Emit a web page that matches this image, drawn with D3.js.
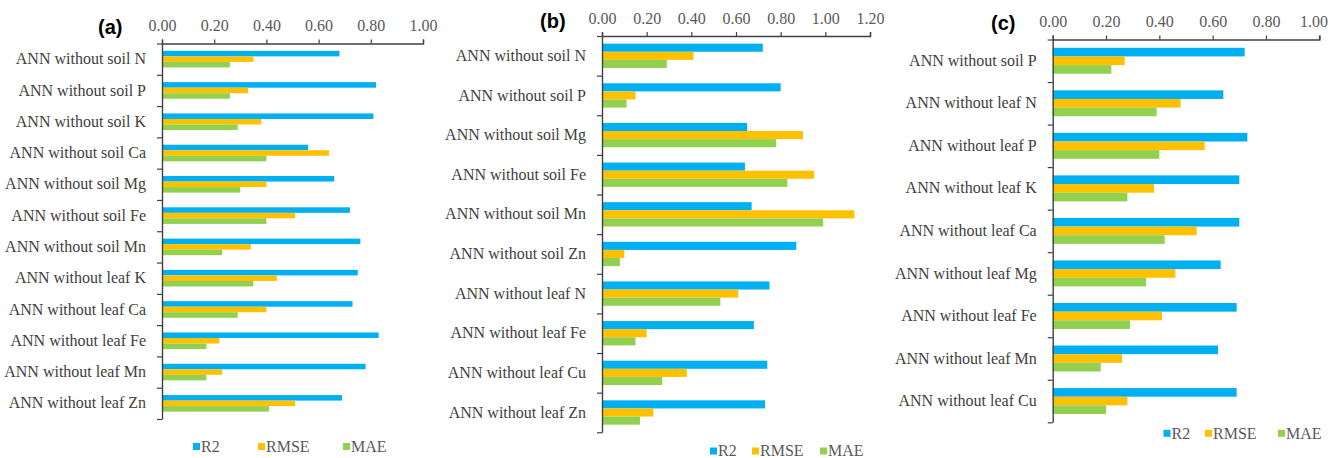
<!DOCTYPE html>
<html>
<head>
<meta charset="utf-8">
<script src="https://cdn.jsdelivr.net/npm/d3@7"></script>
<style>
  html, body { margin: 0; padding: 0; background: #ffffff; }
  svg { display: block; }
</style>
</head>
<body>
<svg id="chart" width="1332" height="458"></svg>
<script>
// ---- data -------------------------------------------------------------
const seriesNames = ["R2", "RMSE", "MAE"];

const labelsA = ["ANN without soil N", "ANN without soil P", "ANN without soil K",
  "ANN without soil Ca", "ANN without soil Mg", "ANN without soil Fe",
  "ANN without soil Mn", "ANN without leaf K", "ANN without leaf Ca",
  "ANN without leaf Fe", "ANN without leaf Mn", "ANN without leaf Zn"];
const r2A   = [0.68, 0.82, 0.81, 0.56, 0.66, 0.72, 0.76, 0.75, 0.73, 0.83, 0.78, 0.69];
const rmseA = [0.35, 0.33, 0.38, 0.64, 0.40, 0.51, 0.34, 0.44, 0.40, 0.22, 0.23, 0.51];
const maeA  = [0.26, 0.26, 0.29, 0.40, 0.30, 0.40, 0.23, 0.35, 0.29, 0.17, 0.17, 0.41];
const ticksA = [0, 0.2, 0.4, 0.6, 0.8, 1.0];

const labelsB = ["ANN without soil N", "ANN without soil P", "ANN without soil Mg",
  "ANN without soil Fe", "ANN without soil Mn", "ANN without soil Zn",
  "ANN without leaf N", "ANN without leaf Fe", "ANN without leaf Cu",
  "ANN without leaf Zn"];
const r2B   = [0.72, 0.80, 0.65, 0.64, 0.67, 0.87, 0.75, 0.68, 0.74, 0.73];
const rmseB = [0.41, 0.15, 0.90, 0.95, 1.13, 0.10, 0.61, 0.20, 0.38, 0.23];
const maeB  = [0.29, 0.11, 0.78, 0.83, 0.99, 0.08, 0.53, 0.15, 0.27, 0.17];
const ticksB = [0, 0.2, 0.4, 0.6, 0.8, 1.0, 1.2];

const labelsC = ["ANN without soil P", "ANN without leaf N", "ANN without leaf P",
  "ANN without leaf K", "ANN without leaf Ca", "ANN without leaf Mg",
  "ANN without leaf Fe", "ANN without leaf Mn", "ANN without leaf Cu"];
const r2C   = [0.72, 0.64, 0.73, 0.70, 0.70, 0.63, 0.69, 0.62, 0.69];
const rmseC = [0.27, 0.48, 0.57, 0.38, 0.54, 0.46, 0.41, 0.26, 0.28];
const maeC  = [0.22, 0.39, 0.40, 0.28, 0.42, 0.35, 0.29, 0.18, 0.20];
const ticksC = [0, 0.2, 0.4, 0.6, 0.8, 1.0];

// ---- styling ------------------------------------------------------------
const colors = { R2: "#00b0f0", RMSE: "#ffc000", MAE: "#92d050" };
const serif = "'Liberation Serif', 'Times New Roman', Times, serif";
const axisColor = "#404040";
const svgWidth = 1332;

// ---- panel layout -----------------------------------------------------
const panels = [
  { tag: "(a)", tagX: 98, tagY: 34, labels: labelsA, values: [r2A, rmseA, maeA],
    ticks: ticksA, xMax: 1.0, x0: 162, x1: 423, y0: 43.5, y1: 419, pad: 0.47,
    legendY: 446.5, legendX: [193, 258, 343] },
  { tag: "(b)", tagX: 540, tagY: 28, labels: labelsB, values: [r2B, rmseB, maeB],
    ticks: ticksB, xMax: 1.2, x0: 602, x1: 870, y0: 36, y1: 432.3, pad: 0.386,
    legendY: 451, legendX: [710, 752, 820] },
  { tag: "(c)", tagX: 991, tagY: 30, labels: labelsC, values: [r2C, rmseC, maeC],
    ticks: ticksC, xMax: 1.0, x0: 1052.7, x1: 1319.3, y0: 39.5, y1: 422.3, pad: 0.39,
    legendY: 433.3, legendX: [1163.5, 1205, 1278] }
];

const svg = d3.select("#chart");
svg.append("rect").attr("width", svgWidth).attr("height", 458).attr("fill", "#ffffff");

panels.forEach(p => {
  const g = svg.append("g");
  const n = p.labels.length;

  const x = d3.scaleLinear().domain([0, p.xMax]).range([p.x0, p.x1]);
  const y = d3.scaleBand().domain(p.labels).range([p.y0, p.y1])
    .paddingInner(p.pad).paddingOuter(p.pad / 2);
  const ySub = d3.scaleBand().domain(seriesNames).range([0, y.bandwidth()]);

  // bars
  const rows = p.labels.map((label, i) => ({
    label,
    items: seriesNames.map((s, k) => ({ series: s, value: p.values[k][i] }))
  }));
  const rowG = g.selectAll("g.row").data(rows).join("g")
    .attr("class", "row")
    .attr("transform", d => `translate(0,${y(d.label)})`);
  rowG.selectAll("rect").data(d => d.items).join("rect")
    .attr("x", x(0))
    .attr("y", d => ySub(d.series))
    .attr("width", d => x(d.value) - x(0))
    .attr("height", ySub.bandwidth())
    .attr("fill", d => colors[d.series]);

  // top value axis
  const xAxis = g.append("g")
    .attr("transform", `translate(0,${p.y0})`)
    .call(d3.axisTop(x).tickValues(p.ticks).tickFormat(d3.format(".2f"))
      .tickSize(4).tickSizeOuter(4).tickPadding(8.5));
  xAxis.select(".domain").attr("stroke", axisColor).attr("stroke-width", 1.4);
  xAxis.selectAll(".tick line").attr("stroke", axisColor).attr("stroke-width", 1.2);
  xAxis.selectAll(".tick text")
    .attr("fill", "#595959").style("font-family", serif).style("font-size", "16px")
    .each(function () {
      // keep the last tick label inside the drawing area
      const box = this.getBBox();
      const tx = d3.select(this.parentNode).attr("transform");
      const cx = +/translate\(([-\d.]+)/.exec(tx)[1];
      const right = cx + box.x + box.width;
      if (right > svgWidth - 4) d3.select(this).attr("dx", (svgWidth - 4 - right) + "px");
    });

  // category boundary ticks along the left axis line
  const yIdx = d3.scaleLinear().domain([0, n]).range([p.y0, p.y1]);
  const yAxis = g.append("g")
    .attr("transform", `translate(${p.x0},0)`)
    .call(d3.axisLeft(yIdx).tickValues(d3.range(n + 1)).tickFormat("")
      .tickSize(5).tickSizeOuter(0));
  yAxis.select(".domain").attr("stroke", axisColor).attr("stroke-width", 1.4);
  yAxis.selectAll(".tick line").attr("stroke", axisColor).attr("stroke-width", 1.2);

  // category labels
  const yLab = g.append("g")
    .attr("transform", `translate(${p.x0},0)`)
    .call(d3.axisLeft(y).tickSize(0).tickPadding(16));
  yLab.select(".domain").remove();
  yLab.selectAll(".tick text")
    .attr("fill", "#404040").style("font-family", serif).style("font-size", "16px");

  // panel tag
  g.append("text")
    .attr("x", p.tagX).attr("y", p.tagY)
    .style("font-family", "'Liberation Sans', Arial, sans-serif")
    .style("font-weight", "bold").style("font-size", "20px")
    .attr("fill", "#000000")
    .text(p.tag);

  // legend
  const lg = g.selectAll("g.legend").data(seriesNames).join("g")
    .attr("class", "legend")
    .attr("transform", (d, i) => `translate(${p.legendX[i]},${p.legendY})`);
  lg.append("rect").attr("x", 0).attr("y", -3.5).attr("width", 7).attr("height", 7)
    .attr("fill", d => colors[d]);
  lg.append("text").attr("x", 8).attr("y", 0).attr("dy", "0.34em")
    .attr("fill", "#595959").style("font-family", serif).style("font-size", "16px")
    .text(d => d);
});
</script>
</body>
</html>
